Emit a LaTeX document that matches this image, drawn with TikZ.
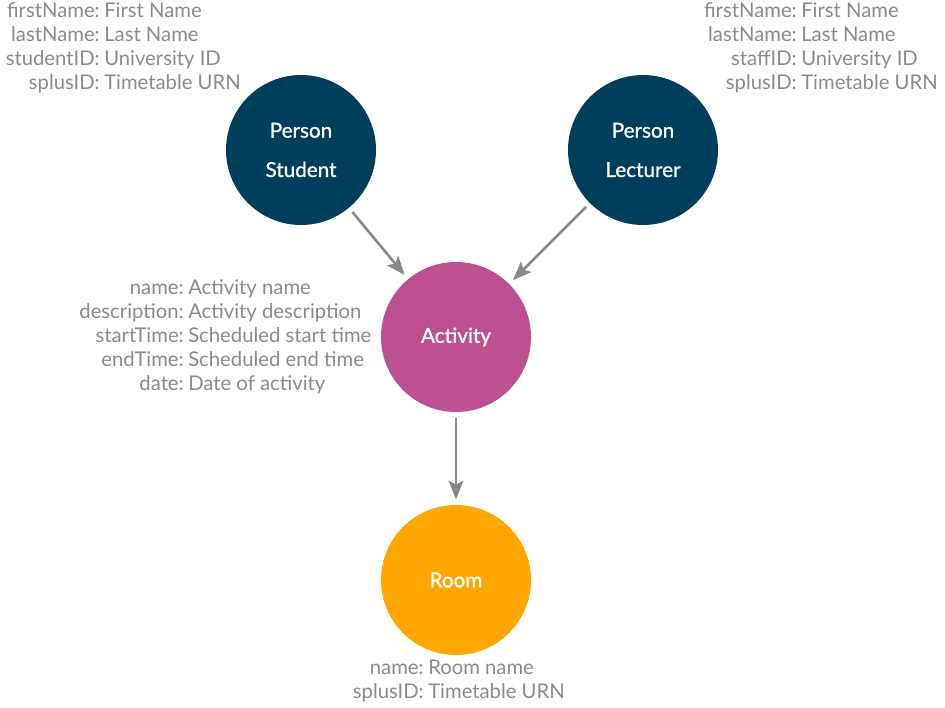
\documentclass[tikz,border=0pt]{standalone}
\usepackage{fontspec}
\setmainfont{Lato}
\newfontfamily\entityfont[FakeBold=1]{Lato}
\usepackage{tikz}
\usetikzlibrary{arrows.meta}
\definecolor{person}{HTML}{003F5C}
\definecolor{activity}{HTML}{BC5090}
\definecolor{room}{HTML}{FFA600}
\definecolor{muted}{HTML}{8A8A8A}
\definecolor{edge}{HTML}{888888}
\tikzset{
  entity/.style={circle, fill=#1, draw=none, minimum size=112.5pt, inner sep=0pt,
    text=white, align=center, font=\entityfont\fontsize{15.5}{29.5}\selectfont},
  prop/.style={text=muted, inner sep=0pt, font=\fontsize{15.2}{18}\selectfont},
  rel/.style={draw=edge, line width=1.9pt, -{Stealth[length=14pt, width=11pt, inset=3pt]},
    shorten <=4pt, shorten >=4pt},
}

\begin{document}
\begin{tikzpicture}[x=0.75pt, y=-0.75pt]
  \useasboundingbox (0,0) rectangle (945,707);
  % entities
  \node[entity=person] (student) at (301,150) {Person\\Student};
  \node[entity=person] (lecturer) at (643,150) {Person\\Lecturer};
  \node[entity=activity] (activity) at (456,337) {Activity};
  \node[entity=room] (room) at (456,580) {Room};
  % relations
  \draw[rel] (student) -- (activity);
  \draw[rel] (lecturer) -- (activity);
  \draw[rel] (activity) -- (room);
  % properties
  \foreach \k/\v [count=\i] in {firstName/First Name, lastName/Last Name,
      studentID/University ID, splusID/Timetable URN} {
    \node[prop, anchor=base east] (stk\i) at (100, 17.5+24*\i-24) {\k:};
    \node[prop, anchor=base west] (stv\i) at (104, 17.5+24*\i-24) {\v};
  }
  \foreach \k/\v [count=\i] in {firstName/First Name, lastName/Last Name,
      staffID/University ID, splusID/Timetable URN} {
    \node[prop, anchor=base east] (lek\i) at (797, 17.5+24*\i-24) {\k:};
    \node[prop, anchor=base west] (lev\i) at (801, 17.5+24*\i-24) {\v};
  }
  \foreach \k/\v [count=\i] in {name/Activity name, description/Activity description,
      startTime/Scheduled start time, endTime/Scheduled end time, date/Date of activity} {
    \node[prop, anchor=base east] (ack\i) at (184, 294.5+24*\i-24) {\k:};
    \node[prop, anchor=base west] (acv\i) at (188, 294.5+24*\i-24) {\v};
  }
  \foreach \k/\v [count=\i] in {name/Room name, splusID/Timetable URN} {
    \node[prop, anchor=base east] (rok\i) at (424, 674.5+24*\i-24) {\k:};
    \node[prop, anchor=base west] (rov\i) at (428, 674.5+24*\i-24) {\v};
  }
\end{tikzpicture}
\end{document}
